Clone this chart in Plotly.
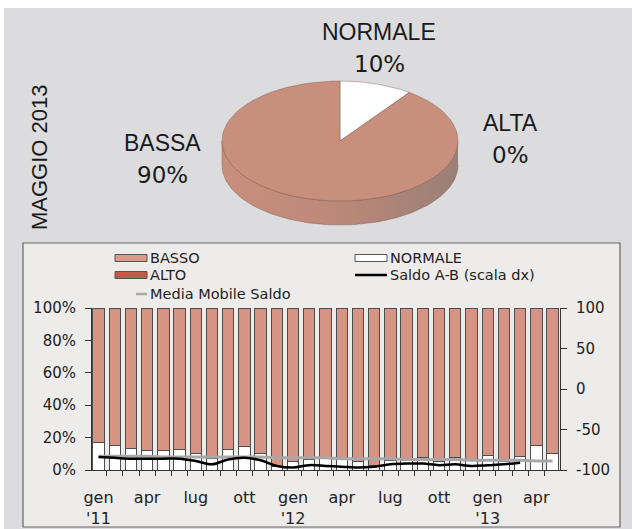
"""Clima di fiducia - maggio 2013: torta 3D + barre mensili."""
import numpy as np
import plotly.graph_objects as go

W, H = 632, 529

# --- dati ---
pie_labels = ["NORMALE", "ALTA", "BASSA"]
pie_values = [10, 0, 90]

months = ["gen 11", "feb 11", "mar 11", "apr 11", "mag 11", "giu 11", "lug 11",
          "ago 11", "set 11", "ott 11", "nov 11", "dic 11",
          "gen 12", "feb 12", "mar 12", "apr 12", "mag 12", "giu 12", "lug 12",
          "ago 12", "set 12", "ott 12", "nov 12", "dic 12",
          "gen 13", "feb 13", "mar 13", "apr 13", "mag 13"]
tick_text = ["gen<br>'11", "", "", "apr", "", "", "lug", "", "", "ott", "", "",
             "gen<br>'12", "", "", "apr", "", "", "lug", "", "", "ott", "", "",
             "gen<br>'13", "", "", "apr", ""]
pct_ticks = [0, 20, 40, 60, 80, 100]
saldo_ticks = [-100, -50, 0, 50, 100]

normale = [17, 15, 13, 12, 12, 12.5, 10, 7, 12.5, 14.5, 10, 2, 5, 6.5, 7,
           7, 5, 3, 6, 6, 8, 5, 8, 6, 9, 5.5, 8.5, 15, 10]
alto = [0] * 29
basso = [83, 85, 87, 88, 88, 87.5, 90, 93, 87.5, 85.5, 90, 98, 95, 93.5, 93,
         93, 95, 97, 94, 94, 92, 95, 92, 94, 91, 94.5, 91.5, 85, 90]
saldo = [-84, -85, -86, -86, -86, -86, -89, -93, -87, -85, -88, -95, -97, -94, -95,
         -96, -97, -96, -93, -92, -92, -94, -93, -95, -94, -93, -91, None, None]
media = [-83, -83, -83, -83, -84, -84, -84, -84, -84, -84, -84, -85, -85, -85, -85,
         -86, -86, -86, -86, -87, -87, -87, -87, -88, -88, -88, -88, -89, -89]


def px(x):
    return x / W


def py(y):
    return 1 - y / H


fig = go.Figure()

# --- torta 3D (coordinate in pixel sull'asse x3/y3) ---
cx, cy, rx, ry, depth = 340, 141, 118, 60, 24
total = sum(pie_values)


def arc(t0, t1, dy=0, n=90):
    t = np.linspace(t0, t1, n)
    return cx + rx * np.sin(t), cy + dy - ry * np.cos(t)


slices = []
start = 0
for lab, v in zip(pie_labels, pie_values):
    a0 = 2 * np.pi * start / total
    a1 = 2 * np.pi * (start + v) / total
    slices.append((lab, v, a0, a1))
    start += v

pie_kw = dict(xaxis="x3", yaxis="y3", mode="lines", fill="toself",
              hoverinfo="skip", showlegend=False)
edge = dict(color="rgba(110,75,65,0.55)", width=0.7)

# fianco
for lab, v, a0, a1 in slices:
    lo, hi = max(a0, np.pi / 2), min(a1, 3 * np.pi / 2)
    if v > 0 and hi > lo and lab != "NORMALE":
        xt, yt = arc(lo, hi)
        xb, yb = arc(lo, hi, depth)
        fig.add_trace(go.Scatter(
            x=np.concatenate([xt, xb[::-1]]), y=np.concatenate([yt, yb[::-1]]),
            fillgradient=dict(type="horizontal",
                              colorscale=[[0, "#c98f7d"], [0.5, "#bb8878"], [1, "#9a7f77"]]),
            line=edge, **pie_kw))

# faccia di taglio
for lab, v, a0, a1 in slices:
    if lab == "BASSA":
        ex, ey = arc(a0, a0, n=1)
        fig.add_trace(go.Scatter(
            x=[cx, ex[0], ex[0], cx], y=[cy, ey[0], ey[0] + depth, cy + depth],
            fillcolor="#c3806f", line=edge, **pie_kw))

# superficie
for lab, v, a0, a1 in slices:
    if v <= 0:
        continue
    xa, ya = arc(a0, a1)
    fig.add_trace(go.Scatter(
        x=np.concatenate([[cx], xa, [cx]]), y=np.concatenate([[cy], ya, [cy]]),
        fillcolor="white" if lab == "NORMALE" else "#c98f7d",
        line=edge, **pie_kw))

# --- barre ---
edge_bar = dict(color="#4d4d4d", width=1)
fig.add_trace(go.Bar(x=months, y=normale, name="NORMALE",
                     marker=dict(color="white", line=edge_bar)))
fig.add_trace(go.Bar(x=months, y=alto, name="ALTO",
                     marker=dict(color="#c0584a", line=dict(width=0))))
fig.add_trace(go.Bar(x=months, y=basso, name="BASSO",
                     marker=dict(color="#d69584", line=edge_bar)))
fig.add_trace(go.Scatter(x=months, y=media, yaxis="y2", mode="lines",
                         name="Media Mobile Saldo",
                         line=dict(color="#a8a8a8", width=3)))
fig.add_trace(go.Scatter(x=months, y=saldo, yaxis="y2", mode="lines",
                         name="Saldo A-B (scala dx)",
                         line=dict(color="black", width=2.5, shape="spline")))

tick_font = dict(family="DejaVu Sans", size=15, color="#222")
ax_line = dict(showline=True, linecolor="#333", linewidth=1, ticks="outside",
               ticklen=6, tickcolor="#333", showgrid=False, zeroline=False,
               automargin=False)

fig.update_layout(
    width=W, height=H, autosize=False,
    margin=dict(l=0, r=0, t=0, b=0, pad=0, autoexpand=False),
    paper_bgcolor="#dcdcde", plot_bgcolor="rgba(0,0,0,0)",
    showlegend=False, barmode="stack", bargap=0.3,
    xaxis=dict(domain=[px(92), px(560)], type="category", range=[-0.4, 28.46],
               tickmode="array", tickvals=months, ticktext=tick_text, tickangle=0,
               tickson="boundaries", ticklabelstandoff=13,
               tickfont=dict(family="DejaVu Sans", size=16, color="#222"),
               **{**ax_line, "ticklen": 5}),
    yaxis=dict(domain=[py(470), py(308)], range=[0, 100], tickmode="array",
               tickvals=pct_ticks, ticktext=[f"{v}%" for v in pct_ticks],
               tickfont=tick_font, ticklabelstandoff=6, **ax_line),
    yaxis2=dict(overlaying="y", side="right", range=[-100, 100], tickmode="array",
                tickvals=saldo_ticks, ticktext=[str(v) for v in saldo_ticks],
                tickfont=tick_font, ticklabelstandoff=6, **ax_line),
    xaxis3=dict(domain=[0, 1], range=[0, W], visible=False, anchor="y3"),
    yaxis3=dict(domain=[py(235), 1], range=[235, 0], visible=False, anchor="x3"),
)

# sfondo, bordi bianchi e riquadro del grafico a barre
fig.add_shape(type="rect", xref="paper", yref="paper", x0=0, x1=px(4), y0=0, y1=1,
              fillcolor="white", line_width=0, layer="below")
fig.add_shape(type="rect", xref="paper", yref="paper", x0=0, x1=1, y0=py(8), y1=1,
              fillcolor="white", line_width=0, layer="below")
fig.add_shape(type="rect", xref="paper", yref="paper", x0=px(23), x1=px(620),
              y0=py(527), y1=py(243), fillcolor="#edeceb",
              line=dict(color="#666", width=1.2), layer="below")

# legenda
leg_font = dict(family="DejaVu Sans", size=14.5, color="#222")
swatches = [("BASSO", "#d99c8a", 115, 258), ("ALTO", "#c25a4a", 115, 275),
            ("NORMALE", "white", 355, 258)]
for lab, col, x0, yc in swatches:
    fig.add_shape(type="rect", xref="paper", yref="paper", x0=px(x0), x1=px(x0 + 32),
                  y0=py(yc + 3.5), y1=py(yc - 3.5), fillcolor=col,
                  line=dict(color="#555", width=1))
    fig.add_annotation(x=px(x0 + 33), y=py(yc), xref="paper", yref="paper", text=lab,
                       showarrow=False, xanchor="left", yanchor="middle", font=leg_font)
for lab, col, x0, x1, yc in [("Saldo A-B (scala dx)", "black", 355, 387, 275),
                             ("Media Mobile Saldo", "#a8a8a8", 136, 147, 294)]:
    fig.add_shape(type="line", xref="paper", yref="paper", x0=px(x0), x1=px(x1),
                  y0=py(yc), y1=py(yc), line=dict(color=col, width=2.5))
    fig.add_annotation(x=px(x1 + 1), y=py(yc), xref="paper", yref="paper", text=lab,
                       showarrow=False, xanchor="left", yanchor="middle", font=leg_font)

# etichette torta
lab_pos = {"NORMALE": (379, 32), "ALTA": (510, 123), "BASSA": (162, 143)}
for lab, v in zip(pie_labels, pie_values):
    x, y = lab_pos[lab]
    fig.add_annotation(x=px(x), y=py(y), xref="paper", yref="paper", text=lab,
                       showarrow=False, xanchor="center", yanchor="middle",
                       font=dict(family="Liberation Sans", size=23, color="#1a1a1a"))
    fig.add_annotation(x=px(x), y=py(y + 32), xref="paper", yref="paper", text=f"{v}%",
                       showarrow=False, xanchor="center", yanchor="middle",
                       font=dict(family="DejaVu Sans", size=23, color="#1a1a1a"))

fig.add_annotation(x=px(40), y=py(157), xref="paper", yref="paper", text="MAGGIO 2013",
                   showarrow=False, textangle=-90, xanchor="center", yanchor="middle",
                   font=dict(family="Liberation Sans", size=22, color="#1a1a1a"))

fig.write_html("out.html", config={"responsive": False, "displayModeBar": False},
               post_script="document.body.style.margin='0';")
